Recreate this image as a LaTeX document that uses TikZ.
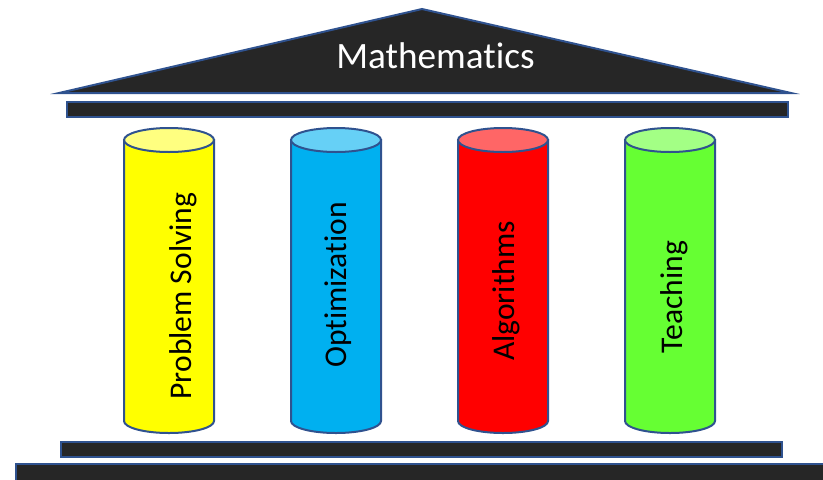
\documentclass[tikz,border=0pt]{standalone}
\usepackage{fontspec}
\setmainfont{Carlito}[Ligatures={NoCommon}]
\definecolor{edgeblue}{HTML}{2F528F}
\definecolor{slabgray}{HTML}{262626}
\definecolor{pyellow}{HTML}{FFFF00}
\definecolor{pyellowtop}{HTML}{FFFF80}
\definecolor{pblue}{HTML}{00B0F0}
\definecolor{pbluetop}{HTML}{66D0F6}
\definecolor{pred}{HTML}{FF0000}
\definecolor{predtop}{HTML}{FF6666}
\definecolor{pgreen}{HTML}{66FF33}
\definecolor{pgreentop}{HTML}{A3FF85}
\begin{document}
\begin{tikzpicture}[x=0.5pt, y=0.5pt,
		slab/.style={fill=slabgray, draw=edgeblue, line width=1pt},
		pillar/.style={draw=edgeblue, line width=1pt},
		pillartext/.style={rotate=90, inner sep=0pt, font=\fontsize{15.8}{18}\selectfont}]
		\useasboundingbox (0, 0) rectangle (823, 479);
		
		\draw[slab] (59, 386) -- (422, 470) -- (791, 386) -- cycle;
		\node[text=white, anchor=base, inner sep=0pt, font=\fontsize{18.6}{22}\selectfont] (math) at (435.5, 411) {Mathematics};
		\draw[slab] (67, 362) rectangle (788, 377);
		
		\draw[pillar, fill=pyellow] (124, 339) -- (124, 58) arc (180:360:45 and 12) -- (214, 339) -- cycle;
		\draw[pillar, fill=pyellowtop] (169, 339) ellipse (45 and 12);
		\node[pillartext] (solving) at (183, 183) {Problem Solving};
		
		\draw[pillar, fill=pblue] (291, 339) -- (291, 58) arc (180:360:45 and 12) -- (381, 339) -- cycle;
		\draw[pillar, fill=pbluetop] (336, 339) ellipse (45 and 12);
		\node[pillartext] (optim) at (338, 194) {Optimization};
		
		\draw[pillar, fill=pred] (458, 339) -- (458, 58) arc (180:360:45 and 12) -- (548, 339) -- cycle;
		\draw[pillar, fill=predtop] (503, 339) ellipse (45 and 12);
		\node[pillartext] (algo) at (506, 188) {Algorithms};
		
		\draw[pillar, fill=pgreen] (625, 339) -- (625, 58) arc (180:360:45 and 12) -- (715, 339) -- cycle;
		\draw[pillar, fill=pgreentop] (670, 339) ellipse (45 and 12);
		\node[pillartext] (teach) at (674, 182) {Teaching};
		
		\draw[slab] (61, 22) rectangle (782, 37);
		\draw[slab] (16, -4) rectangle (830, 15);
	\end{tikzpicture}
\end{document}
